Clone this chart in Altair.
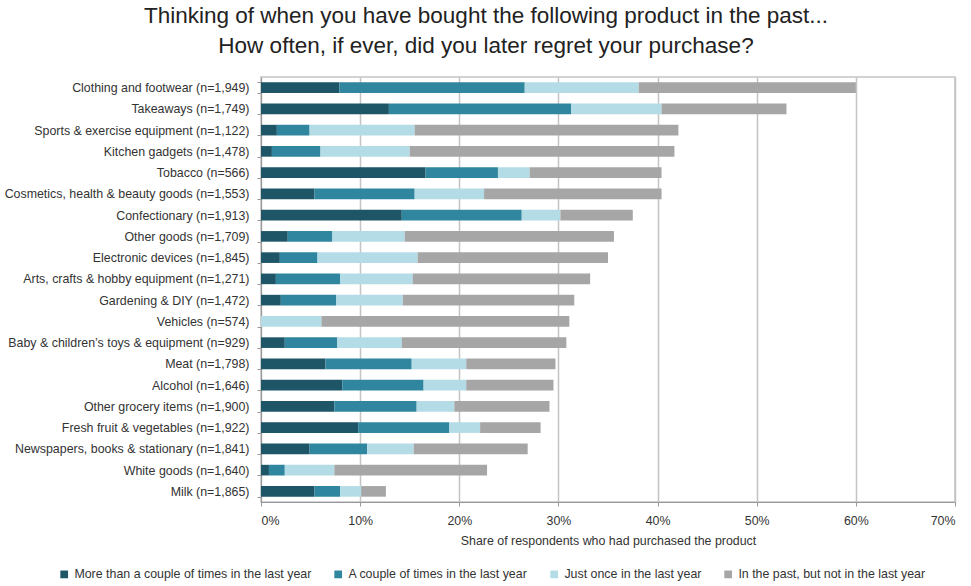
import altair as alt
import pandas as pd

categories = [
    "Clothing and footwear (n=1,949)",
    "Takeaways (n=1,749)",
    "Sports & exercise equipment (n=1,122)",
    "Kitchen gadgets (n=1,478)",
    "Tobacco (n=566)",
    "Cosmetics, health & beauty goods (n=1,553)",
    "Confectionary (n=1,913)",
    "Other goods (n=1,709)",
    "Electronic devices (n=1,845)",
    "Arts, crafts & hobby equipment (n=1,271)",
    "Gardening & DIY (n=1,472)",
    "Vehicles (n=574)",
    "Baby & children\u2019s toys & equipment (n=929)",
    "Meat (n=1,798)",
    "Alcohol (n=1,646)",
    "Other grocery items (n=1,900)",
    "Fresh fruit & vegetables (n=1,922)",
    "Newspapers, books & stationary (n=1,841)",
    "White goods (n=1,640)",
    "Milk (n=1,865)",
]

series_names = [
    "More than a couple of times in the last year",
    "A couple of times in the last year",
    "Just once in the last year",
    "In the past, but not in the last year",
]

more_than_couple = [7.9, 12.9, 1.6, 1.1, 16.6, 5.4, 14.2, 2.7, 1.9, 1.5, 2.0, 0.0, 2.4, 6.5, 8.2, 7.4, 9.8, 4.9, 0.8, 5.4]
couple = [18.7, 18.4, 3.3, 4.9, 7.3, 10.1, 12.1, 4.5, 3.8, 6.5, 5.6, 0.0, 5.3, 8.7, 8.2, 8.3, 9.2, 5.8, 1.6, 2.6]
just_once = [11.5, 9.1, 10.6, 9.0, 3.2, 7.0, 3.9, 7.3, 10.1, 7.3, 6.7, 6.1, 6.5, 5.5, 4.3, 3.8, 3.1, 4.7, 5.0, 2.1]
in_past = [21.9, 12.6, 26.6, 26.7, 13.3, 17.9, 7.3, 21.1, 19.2, 17.9, 17.3, 25.0, 16.6, 9.0, 8.8, 9.6, 6.1, 11.5, 15.4, 2.5]

colors = ["#1e5667", "#30869f", "#b4dce7", "#a6a6a6"]

rows = []
for s_i, (name, vals) in enumerate(zip(series_names, [more_than_couple, couple, just_once, in_past])):
    for c, v in zip(categories, vals):
        rows.append({"category": c, "series": name, "value": v, "order": s_i})
df = pd.DataFrame(rows)

font = "Liberation Sans"
fs = 12.4

chart = alt.Chart(df).mark_bar().encode(
    y=alt.Y("category:N", sort=categories, title=None,
            scale=alt.Scale(paddingInner=0.5, paddingOuter=0.25),
            axis=alt.Axis(labelFont=font, labelFontSize=fs, labelColor="#333333",
                          labelPadding=8, tickBand="extent", tickSize=4,
                          tickColor="#999999", domainColor="#999999", labelLimit=300)),
    x=alt.X("value:Q", stack="zero", title="Share of respondents who had purchased the product",
            scale=alt.Scale(domain=[0, 70], nice=False),
            axis=alt.Axis(values=[0, 10, 20, 30, 40, 50, 60, 70],
                          labelExpr="datum.value + '%'",
                          labelFont=font, labelFontSize=fs, labelColor="#333333",
                          titleFont=font, titleFontSize=fs, titleFontWeight="normal",
                          titleColor="#333333", titlePadding=8,
                          grid=True, gridColor="#c4c4c4", gridWidth=1.5,
                          tickColor="#999999", domainColor="#999999", tickSize=4, labelPadding=8)),
    color=alt.Color("series:N", sort=series_names,
                    scale=alt.Scale(domain=series_names, range=colors),
                    legend=alt.Legend(title=None, orient="none", direction="horizontal",
                                      legendX=-203, legendY=491, columns=4,
                                      symbolType="square", symbolSize=60, symbolStrokeWidth=0,
                                      labelFont=font, labelFontSize=fs, labelColor="#333333",
                                      columnPadding=20, labelLimit=300)),
    order=alt.Order("order:Q", sort="ascending"),
).properties(
    width=694,
    height=425,
    title=alt.TitleParams(
        text=["Thinking of when you have bought the following product in the past...",
              "How often, if ever, did you later regret your purchase?"],
        font=font, fontSize=22.5, fontWeight="normal", color="#222222",
        anchor="middle", dx=-122, offset=14, lineHeight=30,
    ),
    autosize=alt.AutoSizeParams(type="none"),
    padding={"left": 261, "top": 77, "right": 16, "bottom": 84},
).configure_view(stroke="#c4c4c4", strokeWidth=1.5)

chart.save("out.html", embed_options={"renderer": "svg", "actions": False})
